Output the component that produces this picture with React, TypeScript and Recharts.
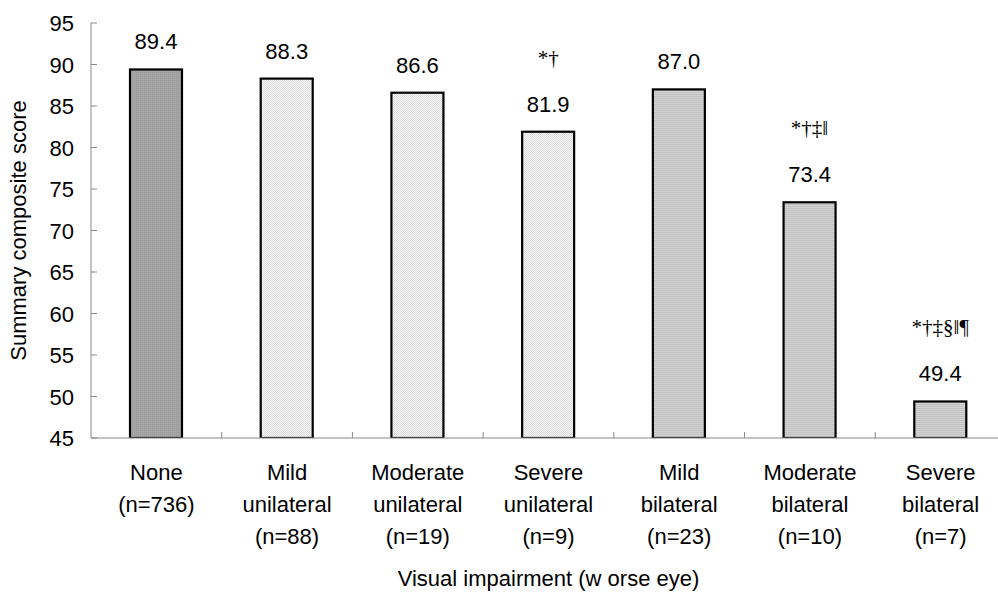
import React from 'react';
import { BarChart, Bar, XAxis, YAxis, Cell } from 'recharts';

const categories = [
  'None\n(n=736)',
  'Mild\nunilateral\n(n=88)',
  'Moderate\nunilateral\n(n=19)',
  'Severe\nunilateral\n(n=9)',
  'Mild\nbilateral\n(n=23)',
  'Moderate\nbilateral\n(n=10)',
  'Severe\nbilateral\n(n=7)',
];
const scores = [89.4, 88.3, 86.6, 81.9, 87.0, 73.4, 49.4];
const significance = ['', '', '', '*†', '', '*†‡‖', '*†‡§‖¶'];
const yTicks = [45, 50, 55, 60, 65, 70, 75, 80, 85, 90, 95];

const FILLS = ['url(#darkDots)', 'url(#checker)', 'url(#checker)', 'url(#checker)', 'url(#hlines)', 'url(#hlines)', 'url(#hlines)'];
const FONT = 'Arial, "Liberation Sans", sans-serif';
const BAND = 130.7;

const data = categories.map((name, i) => ({ name, score: scores[i], sig: significance[i] }));

function XTick(props: any) {
  const { x, y, payload } = props;
  const lines = String(payload.value).split('\n');
  return (
    <g>
      <line x1={x + BAND / 2} x2={x + BAND / 2} y1={y} y2={y - 6} stroke="#888" />
      <text x={x} y={y} textAnchor="middle" fontFamily={FONT} fontSize={22} fill="#000">
        {lines.map((l, i) => (
          <tspan key={i} x={x} dy={i === 0 ? 42 : 32}>{l}</tspan>
        ))}
      </text>
    </g>
  );
}

function YTick(props: any) {
  const { x, y, payload } = props;
  return (
    <g>
      <line x1={x} x2={x + 6} y1={y} y2={y} stroke="#888" />
      <text x={x - 17} y={y + 8} textAnchor="end" fontFamily={FONT} fontSize={22} fill="#000">
        {payload.value}
      </text>
    </g>
  );
}

function BarShape(props: any) {
  const { x, y, width, height, fill, payload } = props;
  const cx = x + width / 2;
  return (
    <g>
      <rect x={x} y={y} width={width} height={height} fill={fill} stroke="#000" strokeWidth={2.2} />
      <text x={cx} y={y - 20} textAnchor="middle" fontFamily={FONT} fontSize={22} fill="#000">
        {payload.score.toFixed(1)}
      </text>
      {payload.sig && (
        <text x={cx} y={y - 67} textAnchor="middle" fontFamily='"Liberation Serif", serif' fontSize={21} fill="#000">
          {payload.sig}
        </text>
      )}
    </g>
  );
}

export default function App() {
  return (
    <div style={{ position: 'absolute', left: 0, top: 0, width: 998, height: 592, overflow: 'hidden', background: '#fff' }}>
      <BarChart width={1006} height={592} data={data} margin={{ top: 23, right: 0, bottom: 0, left: 0 }}>
        <defs>
          <pattern id="checker" width="2" height="2" patternUnits="userSpaceOnUse">
            <rect width="2" height="2" fill="#f6f6f6" />
            <rect width="1" height="1" fill="#dcdcdc" />
            <rect x="1" y="1" width="1" height="1" fill="#dcdcdc" />
          </pattern>
          <pattern id="hlines" width="4" height="2" patternUnits="userSpaceOnUse">
            <rect width="4" height="2" fill="#d2d2d2" />
            <rect width="4" height="1" fill="#c2c2c2" />
          </pattern>
          <pattern id="darkDots" width="2" height="2" patternUnits="userSpaceOnUse">
            <rect width="2" height="2" fill="#a6a6a6" />
            <rect width="1" height="1" fill="#9a9a9a" />
          </pattern>
        </defs>
        <XAxis
          dataKey="name"
          height={154}
          tickSize={0}
          tickMargin={0}
          tickLine={false}
          axisLine={{ stroke: '#888' }}
          tick={<XTick />}
          interval={0}
          label={{ value: 'Visual impairment (w orse eye)', position: 'insideBottom', offset: 6, fontFamily: FONT, fontSize: 22, fill: '#000' }}
        />
        <YAxis
          width={91}
          domain={[45, 95]}
          ticks={yTicks}
          tickSize={0}
          tickMargin={0}
          tickLine={false}
          axisLine={{ stroke: '#888' }}
          tick={<YTick />}
          interval={0}
          allowDataOverflow
          label={{ value: 'Summary composite score', angle: -90, position: 'insideLeft', offset: 18, fontFamily: FONT, fontSize: 22, fill: '#000', style: { textAnchor: 'middle' } }}
        />
        <Bar dataKey="score" barSize={52} isAnimationActive={false} shape={<BarShape />}>
          {data.map((d, i) => (
            <Cell key={d.name} fill={FILLS[i]} />
          ))}
        </Bar>
      </BarChart>
    </div>
  );
}
